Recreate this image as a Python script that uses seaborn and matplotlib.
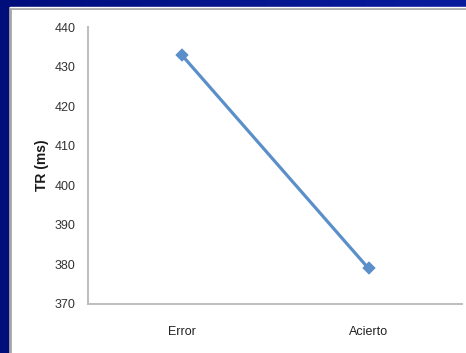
import numpy as np
import pandas as pd
import matplotlib
matplotlib.use("Agg")
import matplotlib.pyplot as plt
from matplotlib.patches import Rectangle
from matplotlib.colors import LinearSegmentedColormap
import seaborn as sns

# Reaction time by response outcome
conditions = ["Error", "Acierto"]
rt_ms = [433, 379]
y_ticks = [370, 380, 390, 400, 410, 420, 430, 440]

df = pd.DataFrame({"Respuesta": conditions, "TR": rt_ms})

sns.set_theme(style="white")
plt.rcParams["font.family"] = ["Liberation Sans Narrow", "Liberation Sans", "DejaVu Sans"]

W, H = 466, 353
fig = plt.figure(figsize=(W / 100, H / 100), dpi=100)

# Blue slide background with a horizontal gradient
bg = fig.add_axes([0, 0, 1, 1], zorder=-10)
grad = np.linspace(0, 1, 256).reshape(1, -1)
cmap = LinearSegmentedColormap.from_list("slide", ["#000e7c", "#0a1c9e"])
bg.imshow(grad, aspect="auto", cmap=cmap, extent=[0, 1, 0, 1])
bg.set_xlim(0, 1)
bg.set_ylim(0, 1)
bg.axis("off")

# White chart panel with thin grey frame
x0 = 9.5 / W
panel = Rectangle((x0, -0.01), 1 - x0 + 0.01, (H - 8) / H + 0.01,
                  transform=fig.transFigure, facecolor="white",
                  edgecolor="#a6a6a6", linewidth=2.0, zorder=-5)
fig.patches.append(panel)
fig.add_artist(plt.Line2D([x0, 1], [(H - 7) / H, (H - 7) / H],
                          transform=fig.transFigure, color="white", lw=1, zorder=-4))

ax = fig.add_axes([88 / W, 49 / H, (462 - 88) / W, (304 - 27) / H])
ax.set_facecolor("none")

sns.pointplot(data=df, x="Respuesta", y="TR", ax=ax, color="#5b8fc9",
              marker="D", markersize=5, linewidth=2.3, errorbar=None)

ax.set_ylim(370, 440)
ax.set_yticks(y_ticks)
ax.set_xlim(-0.5, 1.5)
ax.set_xlabel("")
ax.set_ylabel("TR (ms)", fontsize=10, fontweight="bold", color="#1a1a1a", labelpad=4)

for s in ["top", "right"]:
    ax.spines[s].set_visible(False)
for s in ["left", "bottom"]:
    ax.spines[s].set_color("#bfbfbf")
    ax.spines[s].set_linewidth(1.5)

ax.tick_params(axis="y", length=0, pad=9, labelsize=9, labelcolor="#333333")
ax.tick_params(axis="x", length=0, pad=16, labelsize=9, labelcolor="#222222")

fig.savefig("out.png", dpi=100)
